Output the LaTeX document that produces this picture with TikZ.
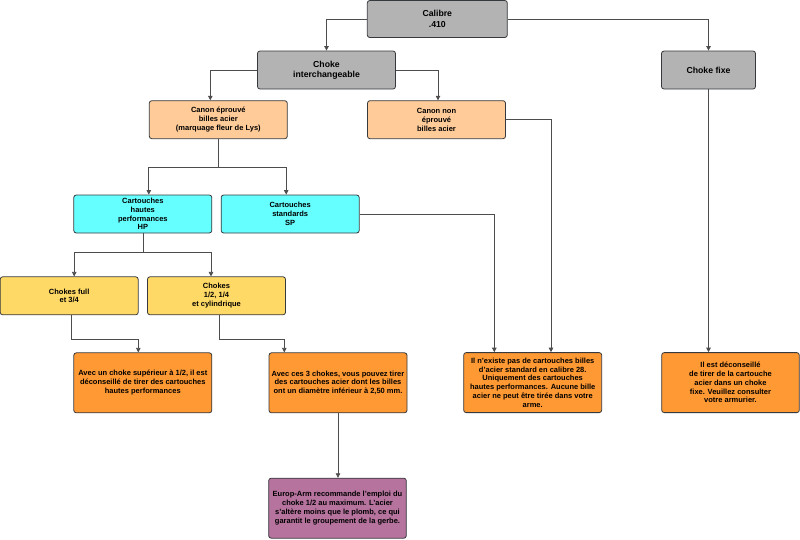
\documentclass[tikz,border=0pt]{standalone}
\usepackage{fontspec}
\setmainfont{Liberation Sans}
\usetikzlibrary{arrows.meta}

\definecolor{edge}{HTML}{36393D}
\definecolor{wire}{HTML}{4D4D4D}
\definecolor{greyfill}{HTML}{B3B3B3}
\definecolor{peachfill}{HTML}{FFCC99}
\definecolor{cyanfill}{HTML}{66FFFF}
\definecolor{yellowfill}{HTML}{FFD966}
\definecolor{orangefill}{HTML}{FF9933}
\definecolor{purplefill}{HTML}{B5739D}

\tikzset{
  box/.style={draw=edge, line width=0.8pt, rounded corners=2.5pt, align=center,
    inner sep=0pt, minimum width=138pt, minimum height=38pt,
    font=\bfseries\fontsize{7.5}{8.8}\selectfont},
  greybox/.style={box, fill=greyfill, font=\bfseries\fontsize{8.7}{10.3}\selectfont},
  peachbox/.style={box, fill=peachfill},
  cyanbox/.style={box, fill=cyanfill},
  yellowbox/.style={box, fill=yellowfill},
  orangebox/.style={box, fill=orangefill, minimum height=60pt},
  purplebox/.style={box, fill=purplefill, minimum height=60pt},
  link/.style={draw=wire, line width=0.8pt, -{Triangle[length=4.5pt,width=4.5pt]}}
}

\begin{document}
\begin{tikzpicture}[x=1pt, y=-1pt]
    \useasboundingbox (0,0) rectangle (800,539);

    % top of the tree
    \node [greybox, minimum width=140pt, minimum height=37pt] (calibre) at (437.3,19) {Calibre\\.410};
    \node [greybox] (chokeint) at (326.5,70) {Choke\\interchangeable};
    \node [greybox, minimum width=94pt] (chokefixe) at (708.5,70) {Choke fixe};

    % barrels
    \node [peachbox] (canonep) at (218.3,119.7) {Canon éprouvé\\billes acier\\(marquage fleur de Lys)};
    \node [peachbox] (canonnon) at (436.5,119.7) {Canon non\\éprouvé\\billes acier};

    % cartridges
    \node [cyanbox] (hp) at (142.8,214) {Cartouches\\hautes\\performances\\HP};
    \node [cyanbox] (sp) at (290.2,214) {Cartouches\\standards\\SP};

    % chokes
    \node [yellowbox] (chfull) at (69.2,295.8) {Chokes full\\et 3/4};
    \node [yellowbox] (chdemi) at (216.5,295.8) {Chokes\\1/2, 1/4\\et cylindrique};

    % conclusions
    \node [orangebox] (warnhp) at (142.8,382.8) {Avec un choke supérieur à 1/2, il est\\déconseillé de tirer des cartouches\\hautes performances};
    \node [orangebox] (acier) at (338,382.8) {Avec ces 3 chokes, vous pouvez tirer\\des cartouches acier dont les billes\\ont un diamètre inférieur à 2,50 mm.};
    \node [orangebox] (noexist) at (532.7,382.6) {Il n'existe pas de cartouches billes\\d'acier standard en calibre 28.\\Uniquement des cartouches\\hautes performances. Aucune bille\\acier ne peut être tirée dans votre\\arme.};
    \node [orangebox, minimum width=137.6pt] (fixe) at (730.5,382.6) {Il est déconseillé\\de tirer de la cartouche\\acier dans un choke\\fixe. Veuillez consulter\\votre armurier.};
    \node [purplebox, minimum width=137.6pt] (europ) at (337.5,508.2) {Europ-Arm recommande l'emploi du\\choke 1/2 au maximum. L'acier\\s'altère moins que le plomb, ce qui\\garantit le groupement de la gerbe.};

    % connectors
    \draw [link] (calibre.west) -| (chokeint.north);
    \draw [link] (calibre.east) -| (chokefixe.north);
    \draw [link] (chokeint.west) -| ([xshift=-8pt]canonep.north);
    \draw [link] (chokeint.east) -| ([xshift=1.5pt]canonnon.north);
    \draw [link] (canonep.south) -- ++(0,28) -| ([xshift=6pt]hp.north);
    \draw [link] (canonep.south) -- ++(0,28) -| ([xshift=-4pt]sp.north);
    \draw [link] ([xshift=0.5pt]hp.south) -- ++(0,18.7) -| ([xshift=5pt]chfull.north);
    \draw [link] ([xshift=0.5pt]hp.south) -- ++(0,18.7) -| ([xshift=-5.5pt]chdemi.north);
    \draw [link] ([xshift=2.5pt]chfull.south) -- ++(0,24) -| ([xshift=-4.5pt]warnhp.north);
    \draw [link] ([xshift=2.8pt]chdemi.south) -- ++(0,24) -| ([xshift=-53.7pt]acier.north);
    \draw [link] (sp.east) -| ([xshift=-38.4pt]noexist.north);
    \draw [link] (canonnon.east) -| ([xshift=18.3pt]noexist.north);
    \draw [link] (chokefixe.south) -- (chokefixe.south |- fixe.north);
    \draw [link] (acier.south) -- (acier.south |- europ.north);
\end{tikzpicture}
\end{document}
